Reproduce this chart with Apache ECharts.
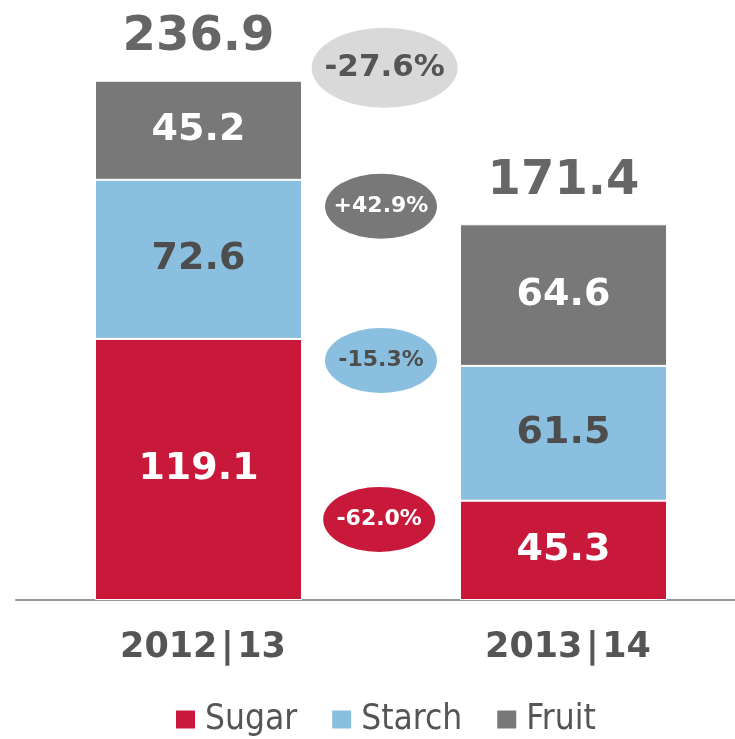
<!DOCTYPE html>
<html>
<head>
<meta charset="utf-8">
<script src="https://cdn.jsdelivr.net/npm/echarts@6/dist/echarts.min.js"></script>
<style>
  html, body { margin: 0; padding: 0; background: #fff; }
  #chart { width: 735px; height: 739px; }
</style>
</head>
<body>
<div id="chart"></div>
<script>
const seasons = ['2012 | 13', '2013 | 14']
const sugar = [119.1, 45.3]
const starch = [72.6, 61.5]
const fruit = [45.2, 64.6]

const totals = seasons.map((s, i) => +(sugar[i] + starch[i] + fruit[i]).toFixed(1))
const change = (arr) => (arr[1] - arr[0]) / arr[0] * 100
const fmtChange = (v) => (v > 0 ? '+' : '') + v.toFixed(1) + '%'

const WIDE = '"DejaVu Sans", sans-serif'
const ELLIPSE = 'path://M0,50 A50,50 0 1,1 100,50 A50,50 0 1,1 0,50 Z'

const chart = echarts.init(document.getElementById('chart'))

const segLabel = (color) => ({
  show: true,
  position: 'inside',
  color: color,
  fontFamily: WIDE,
  fontWeight: 'bold',
  fontSize: 38
})

// change badges between the two bars (y in data units of the value axis)
const badges = [
  { value: [1.01, 242.8], text: fmtChange(change(totals)), color: '#d9d9d9', textColor: '#555', size: [146, 80], font: 31 },
  { value: [1.0, 179.6], text: fmtChange(change(fruit)), color: '#787878', textColor: '#fff', size: [112, 65], font: 22 },
  { value: [1.0, 109.3], text: fmtChange(change(starch)), color: '#8bbfdf', textColor: '#4d4d4d', size: [112, 65], font: 22 },
  { value: [0.995, 36.7], text: fmtChange(change(sugar)), color: '#c8193a', textColor: '#fff', size: [112, 65], font: 22 }
]

chart.setOption({
  animation: false,
  grid: {
    left: 16,
    width: 730,
    top: 52,
    bottom: 139,
    outerBoundsMode: 'none'
  },
  legend: {
    data: ['Sugar', 'Starch', 'Fruit'],
    left: 169,
    top: 697,
    icon: 'rect',
    itemWidth: 21,
    itemHeight: 20,
    itemGap: 33,
    textStyle: {
      color: '#555',
      fontSize: 35,
      fontFamily: '"DejaVu Sans Condensed", "Liberation Sans", sans-serif',
      padding: [0, 0, 0, 4]
    }
  },
  xAxis: [
    {
      type: 'category',
      data: seasons,
      axisLine: { lineStyle: { color: '#999', width: 2 } },
      axisTick: { show: false },
      axisLabel: {
        color: '#555',
        fontFamily: WIDE,
        fontWeight: 'bold',
        fontSize: 35,
        margin: 30,
        padding: [0, 0, 0, 9],
        formatter: (v) => v.replace(' | ', '\u200a|\u200a')
      }
    },
    {
      type: 'value',
      min: 0,
      max: 2,
      show: false
    }
  ],
  yAxis: {
    type: 'value',
    min: 0,
    max: 250,
    show: false,
    splitLine: { show: false }
  },
  series: [
    {
      name: 'Sugar',
      type: 'bar',
      stack: 'total',
      barWidth: 207,
      data: sugar,
      itemStyle: { color: '#c8193a', borderColor: '#fff', borderWidth: 1 },
      label: segLabel('#fff')
    },
    {
      name: 'Starch',
      type: 'bar',
      stack: 'total',
      data: starch,
      itemStyle: { color: '#8bbfdf', borderColor: '#fff', borderWidth: 1 },
      label: segLabel('#4d4d4d')
    },
    {
      name: 'Fruit',
      type: 'bar',
      stack: 'total',
      data: fruit,
      itemStyle: { color: '#787878', borderColor: '#fff', borderWidth: 1 },
      label: segLabel('#fff')
    },
    {
      name: 'Total',
      type: 'bar',
      stack: 'total',
      data: seasons.map(() => 0),
      itemStyle: { color: 'transparent' },
      label: {
        show: true,
        position: 'top',
        distance: 19,
        color: '#666',
        fontFamily: WIDE,
        fontWeight: 'bold',
        fontSize: 48,
        formatter: (p) => totals[p.dataIndex].toFixed(1)
      }
    },
    {
      name: 'Change',
      type: 'scatter',
      xAxisIndex: 1,
      symbol: ELLIPSE,
      z: 5,
      itemStyle: { opacity: 1 },
      data: badges.map(b => ({
        value: b.value,
        symbolSize: b.size,
        itemStyle: { color: b.color, opacity: 1 },
        label: {
          show: true,
          position: 'inside',
          formatter: b.text,
          color: b.textColor,
          fontFamily: WIDE,
          fontWeight: 'bold',
          fontSize: b.font
        }
      }))
    }
  ]
})
</script>
</body>
</html>
